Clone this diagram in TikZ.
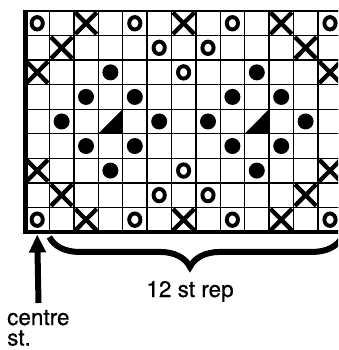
\documentclass[tikz,border=0pt]{standalone}
\usepackage{fontspec}
\setmainfont{TeX Gyre Heros}
\usetikzlibrary{arrows.meta,decorations.pathreplacing}

\begin{document}
\begin{tikzpicture}[x=1pt, y=-1pt,
    cell/.style={draw, line width=1.4pt, minimum width=24.4pt, minimum height=24.55pt, inner sep=0pt, outer sep=0pt},
    ring/.style={line width=3.9pt},
    bobble/.style={fill, circle, minimum size=16pt, inner sep=0pt},
    cross/.style={line width=4.3pt},
    lbl/.style={font=\fontsize{22.5}{20.5}\selectfont\addfontfeature{FakeBold=0.6}, inner sep=0pt}]

    \useasboundingbox (0,0) rectangle (338,350);
    \clip (0,0) rectangle (338,350);

    % Grid
    \foreach \r in {1,...,9} {
        \foreach \c in {0,...,12} {
            \node[cell] (c\c-\r) at ({25+24.4*(\c+0.5)},{11+24.55*(\r-0.5)}) {};
        }
    }
    \draw[line width=5pt] (c0-1.north west) -- (c0-9.south west);
    \draw[line width=4.5pt] ([xshift=-2.5pt]c0-9.south west) -- (c12-9.south east);
    \draw[line width=2.8pt] ([xshift=-2.5pt]c0-1.north west) -- (c12-1.north east);

    % Rings
    \foreach \c/\r in {
            0/1,4/1,8/1,12/1,
            5/2,7/2,6/3,
            6/7,5/8,7/8,
            0/9,4/9,8/9,12/9} {
        \draw[ring] (c\c-\r) ellipse [x radius=5.6pt, y radius=6.2pt];
    }

    % Bobbles
    \foreach \c/\r in {
            3/3,9/3,2/4,4/4,8/4,10/4,
            1/5,5/5,7/5,11/5,
            2/6,4/6,8/6,10/6,3/7,9/7} {
        \node[bobble] (b\c-\r) at (c\c-\r) {};
    }

    % Crosses
    \foreach \c/\r in {
            2/1,6/1,10/1,1/2,11/2,0/3,12/3,
            0/7,12/7,1/8,11/8,2/9,6/9,10/9} {
        \draw[cross] ([shift={(1.5pt,-1.5pt)}]c\c-\r.north west) -- ([shift={(-1.5pt,1.5pt)}]c\c-\r.south east);
        \draw[cross] ([shift={(-1.5pt,-1.5pt)}]c\c-\r.north east) -- ([shift={(1.5pt,1.5pt)}]c\c-\r.south west);
    }

    % Triangles
    \foreach \c/\r in {3/5,9/5} {
        \fill ([shift={(-0.8pt,-0.8pt)}]c\c-\r.north east) -- ([shift={(-0.8pt,0.8pt)}]c\c-\r.south east) -- ([shift={(0.8pt,0.8pt)}]c\c-\r.south west) -- cycle;
    }

    % Repeat and centre stitch
    \draw[line width=6pt, decorate, decoration={brace, amplitude=30pt, aspect=0.52}]
        ([yshift=-5pt]c12-9.south east) -- ([yshift=-5pt]c1-9.south west);
    \node[lbl, anchor=base] (rep) at (190,297) {12 st rep};

    \node[lbl, anchor=base west, align=left] (centre) at (7,345.5) {centre\\st.};
    \coordinate (tail) at (38.5,303);
    \draw[line width=6pt, -{Triangle[width=16pt,length=18pt]}] (tail) -- ([yshift=-2.5pt]c0-9.south);
\end{tikzpicture}
\end{document}
